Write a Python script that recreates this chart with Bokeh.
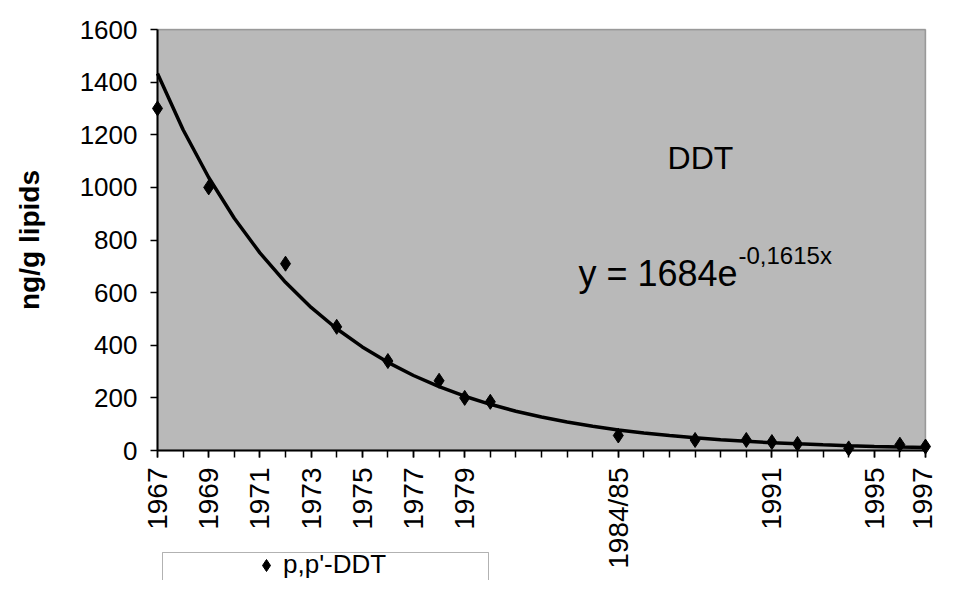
import math
from bokeh.plotting import figure
from bokeh.models import (FixedTicker, Label, Legend, LegendItem, BoxAnnotation,
                          Range1d)
from bokeh.embed import file_html
from bokeh.resources import INLINE

# ---------------- data ----------------
years = list(range(1967, 1998))                      # category slots on the x axis
label_years = [1967, 1969, 1971, 1973, 1975, 1977, 1979, 1985, 1991, 1995, 1997]
label_overrides = {1985: "1984/85"}
sample_years = [1967, 1969, 1972, 1974, 1976, 1978, 1979, 1980,
                1985, 1988, 1990, 1991, 1992, 1994, 1996, 1997]
ddt = [1300, 1000, 710, 470, 340, 265, 200, 185,
       57, 40, 40, 32, 25, 8, 22, 15]
y_ticks = [0, 200, 400, 600, 800, 1000, 1200, 1400, 1600]
# exponential trend line printed on the chart: y = 1684 e^(-0.1615 x), x = category number (1..31)
trend_a = 1684
trend_b = -0.1615
trend = [trend_a * math.exp(trend_b * (i + 1)) for i in range(len(years))]

FONT = "Liberation Sans"
GRAY = "#b9b9b9"

# ---------------- layout (pixels) ----------------
W, H = 937, 580
LEFT, RIGHT, TOP, ZERO = 157, 925, 29, 450        # plot-area edges on the canvas
px_x = (RIGHT - LEFT) / (years[-1] - years[0])
px_y = (ZERO - TOP) / (y_ticks[-1] - y_ticks[0])
x_range = Range1d(years[0] - LEFT / px_x, years[-1] + (W - RIGHT) / px_x)
y_range = Range1d(y_ticks[0] - (H - ZERO) / px_y, y_ticks[-1] + TOP / px_y)


def dx(px):   # canvas x pixel -> x data
    return years[0] + (px - LEFT) / px_x


def dy(py):   # canvas y pixel -> y data
    return y_ticks[0] + (ZERO - py) / px_y


p = figure(width=W, height=H, output_backend="svg", toolbar_location=None,
           x_range=x_range, y_range=y_range, min_border=0,
           min_border_left=0, min_border_right=0, min_border_top=0,
           min_border_bottom=0)

p.background_fill_color = "white"
p.border_fill_color = "white"
p.outline_line_color = None
p.xgrid.visible = False
p.ygrid.visible = False

# grey plot area with its border
p.add_layout(BoxAnnotation(left=years[0], right=years[-1], bottom=y_ticks[0],
                           top=y_ticks[-1], fill_color=GRAY, fill_alpha=1.0,
                           line_color="black", line_width=1.5, level="underlay"))

# trend line and points
p.line(years, trend, line_color="black", line_width=3.5)
r_pts = p.scatter(sample_years, ddt, marker="diamond", size=15,
                  fill_color="black", line_color="black")

# x axis (drawn at y = 0)
xa = p.xaxis[0]
xa.fixed_location = y_ticks[0]
xa.bounds = (years[0], years[-1])
xa.ticker = FixedTicker(ticks=label_years, minor_ticks=years)
xa.major_label_overrides = label_overrides
xa.major_label_orientation = math.pi / 2
xa.major_label_text_font = FONT
xa.major_label_text_font_size = "28px"
xa.major_label_text_color = "black"
xa.major_label_standoff = 10
xa.major_tick_out = 7
xa.major_tick_in = 0
xa.minor_tick_out = 7
xa.minor_tick_in = 0
xa.major_tick_line_color = "black"
xa.minor_tick_line_color = "black"
xa.major_tick_line_width = 1.5
xa.minor_tick_line_width = 1.5
xa.axis_line_color = "black"
xa.axis_line_width = 2

# y axis (drawn at the first year)
ya = p.yaxis[0]
ya.fixed_location = years[0]
ya.bounds = (y_ticks[0], y_ticks[-1])
ya.ticker = FixedTicker(ticks=y_ticks)
ya.major_label_text_font = FONT
ya.major_label_text_font_size = "26px"
ya.major_label_text_color = "black"
ya.major_label_standoff = 13
ya.major_tick_out = 7
ya.major_tick_in = 0
ya.minor_tick_out = 0
ya.minor_tick_in = 0
ya.major_tick_line_color = "black"
ya.major_tick_line_width = 1.5
ya.axis_line_color = "black"
ya.axis_line_width = 2
ya.axis_label = "ng/g lipids"
ya.axis_label_text_font = FONT
ya.axis_label_text_font_size = "28px"
ya.axis_label_text_font_style = "bold"
ya.axis_label_text_color = "black"
ya.axis_label_standoff = 32

# annotations inside the plot
p.add_layout(Label(x=dx(700), y=dy(157), text="DDT", text_align="center",
                   text_baseline="middle", text_font=FONT, text_font_size="32px",
                   text_color="black"))
p.add_layout(Label(x=dx(578), y=dy(273), text="y = 1684e", text_align="left",
                   text_baseline="alphabetic", text_font=FONT,
                   text_font_size="36px", text_color="black"))
p.add_layout(Label(x=dx(738), y=dy(255), text="-0,1615x", text_align="left",
                   text_baseline="alphabetic", text_font=FONT,
                   text_font_size="24px", text_color="black"))

# legend box below the axis (its lower part runs off the bottom edge)
p.add_layout(BoxAnnotation(left=162, right=488, top=552, bottom=600,
                           left_units="canvas", right_units="canvas",
                           top_units="canvas", bottom_units="canvas",
                           fill_color="white", fill_alpha=1.0,
                           line_color="black", line_width=1))
legend = Legend(items=[LegendItem(label="p,p'-DDT", renderers=[r_pts])],
                location=(251, 0), padding=0, margin=0, spacing=0,
                glyph_width=30, glyph_height=30, label_height=30,
                label_standoff=2, label_text_font=FONT,
                label_text_font_size="26px", label_text_color="black",
                border_line_alpha=0, background_fill_alpha=0)
p.add_layout(legend)

open("out.html", "w").write(file_html(p, INLINE))
